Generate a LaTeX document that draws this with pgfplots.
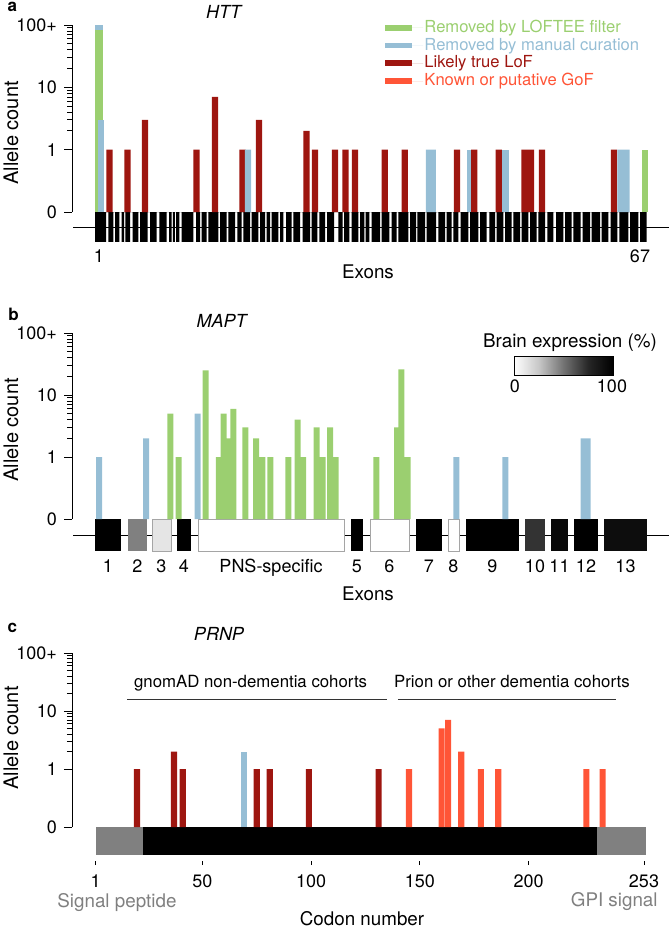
\documentclass[border=0pt]{standalone}
\usepackage{fontspec}
\setmainfont{TeX Gyre Heros}
\usepackage{pgfplots}
\pgfplotsset{compat=1.18}
\definecolor{cgreen}{RGB}{155,207,112}
\definecolor{cblue}{RGB}{150,190,213}
\definecolor{cdred}{RGB}{158,22,16}
\definecolor{corange}{RGB}{255,85,55}
\definecolor{sgray}{RGB}{128,128,128}
\definecolor{lgray}{RGB}{165,165,165}
\newcommand{\fs}[1]{\fontsize{#1}{#1}\selectfont}
\pgfdeclarehorizontalshading{brain}{100bp}{color(0bp)=(white); color(25bp)=(white); color(37.5bp)=(black!22); color(50bp)=(black!55); color(62.5bp)=(black!85); color(75bp)=(black); color(100bp)=(black)}
\pgfplotsset{
  cnt/.style={y filter/.expression={log10(y)+1}},
  bars/.style={ybar, bar shift=0pt, draw=none, cnt},
  panel/.style={
    scale only axis, width=298.5pt, anchor=south west,
    ymin=0, ymax=3, clip=false,
    axis x line=bottom, axis y line=left,
    x axis line style={draw=none},
    y axis line style={-, line width=0.5pt},
    ytick={0,1,2,3}, yticklabels={0,1,10,100+},
    minor ytick={1.301,1.477,1.602,1.699,1.778,1.845,1.903,1.954,2.301,2.477,2.602,2.699,2.778,2.845,2.903,2.954},
    tick align=outside, major tick length=4pt, minor tick length=2.5pt,
    tick style={black, line width=0.5pt},
    xtick style={draw=none},
    tick label style={font=\fs{9}},
  },
}
\begin{document}
\begin{tikzpicture}
\path[use as bounding box] (0pt,0pt) rectangle (334.5pt,-464pt);
% ---------------- Panel a: HTT
\begin{axis}[panel, at={(36pt,-106pt)}, height=93.5pt, xmin=72, xmax=669,
  xtick={99,640}, xticklabels={1,67},
  x tick label style={anchor=base, yshift=-21pt},
  legend cell align=left,
  legend style={at={(axis description cs:0.524,1.035)}, anchor=north west, draw=none, fill=none,
    inner sep=0pt, row sep=0pt, font=\fs{8.3},
    nodes={inner sep=0.6pt, text height=6.1pt, text depth=1.6pt}},
  legend image code/.code={\fill (0pt,-1.45pt) rectangle (13.5pt,1.45pt); \path (0pt,0pt) -- (19pt,0pt);},
  legend entries={\textcolor{cgreen}{Removed by LOFTEE filter},
                  \textcolor{cblue}{Removed by manual curation},
                  \textcolor{cdred}{Likely true LoF},
                  \textcolor{corange}{Known or putative GoF}},
]
\addlegendimage{fill=cgreen, draw=none}
\addlegendimage{fill=cblue, draw=none}
\addlegendimage{fill=cdred, draw=none}
\addlegendimage{fill=corange, draw=none}
% intron line and exons
\addplot[black, line width=0.5pt] coordinates {(73,-0.25) (669,-0.25)};
\addplot[const plot, fill=black, draw=none] coordinates {(95,0)
(95,-0.48)(106,0) (108.3,-0.48)(113.3,0) (115,-0.48)(119.3,0) (121.7,-0.48)(124,0)
(125.3,-0.48)(130,0) (132.7,-0.48)(138.3,0) (140,-0.48)(147.7,0) (150,-0.48)(156.7,0)
(159.3,-0.48)(166.7,0) (169,-0.48)(171.5,0) (172.8,-0.48)(174.8,0) (176,-0.48)(179.3,0)
(181.7,-0.48)(193.3,0) (196,-0.48)(200,0) (201.7,-0.48)(206.7,0) (208.3,-0.48)(218.3,0)
(220,-0.48)(226.7,0) (228.3,-0.48)(235,0) (237.3,-0.48)(241.7,0) (243.3,-0.48)(250,0)
(251.7,-0.48)(258.3,0) (260,-0.48)(265,0) (266.7,-0.48)(270,0) (271.7,-0.48)(278.3,0)
(280,-0.48)(283.3,0) (286,-0.48)(291.7,0) (293.3,-0.48)(300,0) (302.7,-0.48)(310,0)
(311.7,-0.48)(317.3,0) (319.3,-0.48)(325,0) (327,-0.48)(334,0) (338.3,-0.48)(342.7,0)
(344,-0.48)(349.3,0) (351.7,-0.48)(358.3,0) (360,-0.48)(364.3,0) (365.7,-0.48)(369.3,0)
(371.7,-0.48)(380,0) (381.7,-0.48)(389.3,0) (391.7,-0.48)(396.7,0) (398.3,-0.48)(408.3,0)
(410,-0.48)(416,0) (417.3,-0.48)(425,0) (426.7,-0.48)(436,0) (438.3,-0.48)(445,0)
(446.7,-0.48)(451.7,0) (453.3,-0.48)(458.3,0) (460.7,-0.48)(468.3,0) (470,-0.48)(478.3,0)
(480,-0.48)(486.7,0) (489.3,-0.48)(495,0) (496.7,-0.48)(503.3,0) (505,-0.48)(511.7,0)
(513.3,-0.48)(520,0) (521.7,-0.48)(528.3,0) (530,-0.48)(536.7,0) (538.3,-0.48)(545,0)
(547.3,-0.48)(553.3,0) (556,-0.48)(563.3,0) (565,-0.48)(571.7,0) (573.3,-0.48)(580.7,0)
(582.7,-0.48)(590,0) (591.7,-0.48)(600,0) (601.7,-0.48)(608.3,0) (610.7,-0.48)(617.3,0)
(619.3,-0.48)(628.3,0) (630,-0.48)(638.3,0) (640,-0.48)(646.7,0)};
% variant bars (allele counts)
\addplot[bars, bar width=7.7, fill=cblue] coordinates {(98.8,100)};
\addplot[bars, bar width=7.7, fill=cgreen] coordinates {(98.8,83)};
\addplot[bars, bar width=5.7, fill=cblue] coordinates {(101.2,3)};
\addplot[bars, bar width=6.3, fill=cblue] coordinates {(470,1)};
\addplot[bars, bar width=7, fill=cblue] coordinates {(505.3,1)};
\addplot[bars, bar width=6.3, fill=cdred] coordinates {(109.5,1)(127.5,1)(145,3)(196.5,1)(215,7)(242.5,1)(259,3)(306.5,2)(315,1)(335,1)(345.5,1)(355,1)(384.7,1)(404.7,1)(457,1)(474.2,1)(498.7,1)(524.5,1)(531,1)(542,1)(614,1)};
\addplot[bars, bar width=6.3, fill=cblue] coordinates {(248,1)(428.9,1)(432.8,1)(620.5,1)(626.5,1)};
\addplot[bars, bar width=6.3, fill=cgreen] coordinates {(644.7,1)};
\end{axis}
\node[anchor=base west, font=\fs{8.5}\bfseries] at (0.3pt,-5.9pt) {a};
\node[anchor=base, font=\fs{9}\itshape] at (111.8pt,-9pt) {HTT};
\node[rotate=90, font=\fs{10}] at (5.5pt,-66.5pt) {Allele count};
\node[anchor=base, font=\fs{9.4}] at (184pt,-139pt) {Exons};
% ---------------- Panel b: MAPT
\begin{axis}[panel, at={(36pt,-259.5pt)}, height=93pt, xmin=72, xmax=669,
  xtick={108,137.5,161.5,184,271,357,389.5,429,453.5,492.5,535,559.5,586,625.5},
  xticklabels={1,2,3,4,PNS-specific,5,6,7,8,9,10,11,12,13},
  x tick label style={anchor=base, yshift=-22.5pt},
]
\addplot[black, line width=0.5pt] coordinates {(73,-0.258) (669,-0.258)};
\addplot[fill=black, draw=none] coordinates {(95,0)(121,0)(121,-0.516)(95,-0.516)};
\addplot[fill=sgray, draw=none] coordinates {(128,0)(147,0)(147,-0.516)(128,-0.516)};
\addplot[fill=black!10, draw=lgray, line width=0.4pt] coordinates {(152,0)(171,0)(171,-0.516)(152,-0.516)(152,0)};
\addplot[fill=black, draw=none] coordinates {(177,0)(191,0)(191,-0.516)(177,-0.516)};
\addplot[fill=white, draw=lgray, line width=0.4pt] coordinates {(198,0)(344.5,0)(344.5,-0.516)(198,-0.516)(198,0)};
\addplot[fill=black, draw=none] coordinates {(351,0)(363,0)(363,-0.516)(351,-0.516)};
\addplot[fill=white, draw=lgray, line width=0.4pt] coordinates {(370,0)(409,0)(409,-0.516)(370,-0.516)(370,0)};
\addplot[fill=black, draw=none] coordinates {(416,0)(442,0)(442,-0.516)(416,-0.516)};
\addplot[fill=white, draw=lgray, line width=0.4pt] coordinates {(448,0)(459,0)(459,-0.516)(448,-0.516)(448,0)};
\addplot[fill=black, draw=none] coordinates {(466,0)(519,0)(519,-0.516)(466,-0.516)};
\addplot[fill=black!80, draw=none] coordinates {(525,0)(545,0)(545,-0.516)(525,-0.516)};
\addplot[fill=black!97, draw=none] coordinates {(551,0)(568,0)(568,-0.516)(551,-0.516)};
\addplot[fill=black, draw=none] coordinates {(574,0)(598,0)(598,-0.516)(574,-0.516)};
\addplot[fill=black!95, draw=none] coordinates {(604,0)(647,0)(647,-0.516)(604,-0.516)};
\addplot[bars, bar width=6, fill=cgreen] coordinates {(170.3,5)(178.7,1)(205.7,25)(218.8,1)(223.7,5)(228,2)(233.3,6)(245.3,3)(256,2)(262.3,1)(270.3,1)(288.3,1)(297.7,4)(303,1)(316.7,3)(322.7,1)(330,3)(335.5,1)(376.3,1)(397.2,3)(401.3,26)(407.7,1)};
\addplot[bars, bar width=6, fill=cblue] coordinates {(99,1)(146,2)(197.7,5)(456.3,1)(505.3,1)(583.7,2)(587.7,2)};
\end{axis}
\node[anchor=base west, font=\fs{8.5}\bfseries] at (0.6pt,-160.3pt) {b};
\node[anchor=base, font=\fs{9}\itshape] at (110.8pt,-163.5pt) {MAPT};
\node[rotate=90, font=\fs{10}] at (5.5pt,-215pt) {Allele count};
\node[anchor=base, font=\fs{9.4}] at (184pt,-300pt) {Exons};
\shade[shading=brain] (257pt,-178pt) rectangle (306.5pt,-187.5pt);
\draw[line width=0.5pt] (257pt,-178pt) rectangle (306.5pt,-187.5pt);
\node[anchor=base, font=\fs{9.4}] at (285pt,-173.5pt) {Brain expression (\%)};
\node[anchor=base, font=\fs{9}] at (257.5pt,-196pt) {0};
\node[anchor=base, font=\fs{9}] at (306pt,-196pt) {100};
% ---------------- Panel c: PRNP
\begin{axis}[panel, at={(36pt,-413.5pt)}, height=87pt, xmin=-9.89, xmax=264.49,
  xtick={1,50,100,150,200,253}, xticklabels={1,50,100,150,200,253},
  axis x line shift=17pt,
  xtick style={draw=black, /pgfplots/major tick length=2pt},
  x tick label style={anchor=base, yshift=-9pt, inner sep=1pt},
]
\addplot[fill=sgray, draw=none] coordinates {(1,0)(22.6,0)(22.6,-0.483)(1,-0.483)};
\addplot[fill=black, draw=none] coordinates {(22.6,0)(231.4,0)(231.4,-0.483)(22.6,-0.483)};
\addplot[fill=sgray, draw=none] coordinates {(231.4,0)(254,0)(254,-0.483)(231.4,-0.483)};
\addplot[bars, bar width=2.8, fill=cdred] coordinates {(20,1)(37,2)(41,1)(75,1)(81,1)(99,1)(131,1)};
\addplot[bars, bar width=2.8, fill=cblue] coordinates {(69,2)};
\addplot[bars, bar width=2.8, fill=corange] coordinates {(145,1)(160,5)(163,7)(169,2)(178,1)(186,1)(226.5,1)(234,1)};
\draw[line width=0.5pt, black!80] (axis cs:15.4,2.207) -- (axis cs:134.9,2.207);
\draw[line width=0.5pt, black!80] (axis cs:139.9,2.207) -- (axis cs:240.1,2.207);
\node[anchor=base, font=\fs{8.4}] at (axis cs:72.2,2.414) {gnomAD non-dementia cohorts};
\node[anchor=base, font=\fs{8.4}] at (axis cs:192.3,2.414) {Prion or other dementia cohorts};
\end{axis}
\node[anchor=base west, font=\fs{8.5}\bfseries] at (0.3pt,-316.3pt) {c};
\node[anchor=base, font=\fs{9}\itshape] at (109.5pt,-320pt) {PRNP};
\node[rotate=90, font=\fs{10}] at (5.5pt,-369pt) {Allele count};
\node[anchor=base west, font=\fs{9.4}, text=sgray, inner sep=1pt] at (27.5pt,-453.5pt) {Signal peptide};
\node[anchor=base east, font=\fs{9.4}, text=sgray, inner sep=1pt] at (330pt,-453pt) {GPI signal};
\node[anchor=base, font=\fs{9.4}] at (181pt,-462.5pt) {Codon number};
\end{tikzpicture}
\end{document}
